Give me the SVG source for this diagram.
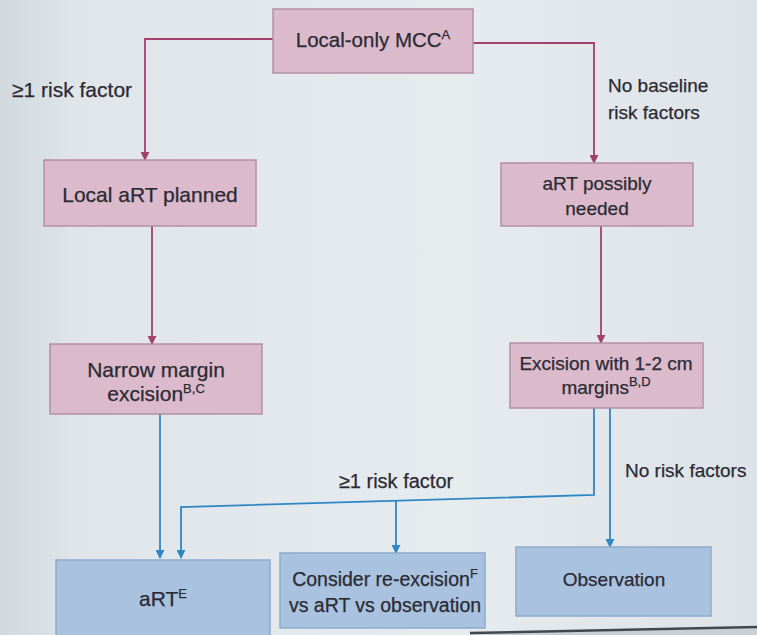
<svg xmlns="http://www.w3.org/2000/svg" width="757" height="635" viewBox="0 0 757 635">
  <defs>
    <linearGradient id="bg" x1="0" y1="0" x2="1" y2="0">
      <stop offset="0" stop-color="#d1d9df"/>
      <stop offset="0.1" stop-color="#dfe5e9"/>
      <stop offset="0.6" stop-color="#e6ebee"/>
      <stop offset="1" stop-color="#dde3e7"/>
    </linearGradient>
    <marker id="arrPink" viewBox="0 0 10 10" refX="9" refY="5" markerWidth="9" markerHeight="9" markerUnits="userSpaceOnUse" orient="auto">
      <path d="M0,0 L10,5 L0,10 z" fill="#a3406f"/>
    </marker>
    <marker id="arrBlue" viewBox="0 0 10 10" refX="9" refY="5" markerWidth="9" markerHeight="9" markerUnits="userSpaceOnUse" orient="auto">
      <path d="M0,0 L10,5 L0,10 z" fill="#2f86c4"/>
    </marker>
  </defs>
  <style>
    .pink { fill: #dbbacb; stroke: #b48fa4; stroke-width: 1.5; }
    .blue { fill: #a8c2df; stroke: #8cabcd; stroke-width: 1.5; }
    .t { font-family: "Liberation Sans", Arial, sans-serif; font-size: 19px; fill: #2b2a33; stroke: #2b2a33; stroke-width: 0.25; }
    .c { text-anchor: middle; }
    .L { font-size: 21px; }
    .M { font-size: 20.5px; }
    .sup { font-size: 13px; }
    .pl { fill: none; stroke: #a3406f; stroke-width: 1.8; }
    .bl { fill: none; stroke: #2f86c4; stroke-width: 1.8; }
  </style>

  <rect x="0" y="0" width="757" height="635" fill="url(#bg)"/>
  <!-- lower slide edge -->
  <polygon points="470,634 757,628 757,635 470,635" fill="#c9cfd4"/>
  <line x1="470" y1="633" x2="757" y2="627" stroke="#44474c" stroke-width="2.5"/>

  <!-- connectors -->
  <g id="connectors">
    <path class="pl" d="M273,39 H145 V160" marker-end="url(#arrPink)"/>
    <path class="pl" d="M473,43 H594 V163" marker-end="url(#arrPink)"/>
    <path class="pl" d="M152,226 V344" marker-end="url(#arrPink)"/>
    <path class="pl" d="M601,226 V343" marker-end="url(#arrPink)"/>
    <path class="bl" d="M160,414 V558" marker-end="url(#arrBlue)"/>
    <path class="bl" d="M594,408 V495 L181,507 V558" marker-end="url(#arrBlue)"/>
    <path class="bl" d="M396,501 V553" marker-end="url(#arrBlue)"/>
    <path class="bl" d="M610,408 V547" marker-end="url(#arrBlue)"/>
    <text class="t L" x="12" y="97">≥1 risk factor</text>
    <text class="t" x="608" y="92">No baseline</text>
    <text class="t" x="608" y="119">risk factors</text>
    <text class="t c" x="396" y="488" style="font-size:20px">≥1 risk factor</text>
    <text class="t" x="625" y="477">No risk factors</text>
  </g>

  <g id="local-only">
    <rect class="pink" x="273" y="9" width="200" height="64"/>
    <text class="t c M" x="373" y="47">Local-only MCC<tspan class="sup" dy="-8">A</tspan></text>
  </g>

  <g id="local-art-planned">
    <rect class="pink" x="44" y="160" width="212" height="66"/>
    <text class="t c L" x="150" y="202">Local aRT planned</text>
  </g>

  <g id="art-possibly-needed">
    <rect class="pink" x="501" y="163" width="192" height="63"/>
    <text class="t c" x="597" y="190">aRT possibly</text>
    <text class="t c" x="597" y="215">needed</text>
  </g>

  <g id="narrow-margin">
    <rect class="pink" x="50" y="344" width="212" height="70"/>
    <text class="t c L" x="156" y="377">Narrow margin</text>
    <text class="t c L" x="156" y="401">excision<tspan class="sup" dy="-8">B,C</tspan></text>
  </g>

  <g id="wide-excision">
    <rect class="pink" x="510" y="343" width="193" height="65"/>
    <text class="t c" x="606" y="370">Excision with 1-2 cm</text>
    <text class="t c" x="606" y="394">margins<tspan class="sup" dy="-8">B,D</tspan></text>
  </g>

  <g id="art">
    <rect class="blue" x="56" y="560" width="214" height="76"/>
    <text class="t c L" x="163" y="606">aRT<tspan class="sup" dy="-8">E</tspan></text>
  </g>

  <g id="consider">
    <rect class="blue" x="280" y="553" width="205" height="75"/>
    <text class="t c" x="385" y="586" style="font-size:19.5px">Consider re-excision<tspan class="sup" dy="-8">F</tspan></text>
    <text class="t c" x="385" y="612" style="font-size:19.5px">vs aRT vs observation</text>
  </g>

  <g id="observation">
    <rect class="blue" x="516" y="547" width="195" height="69"/>
    <text class="t c" x="614" y="586">Observation</text>
  </g>
</svg>
